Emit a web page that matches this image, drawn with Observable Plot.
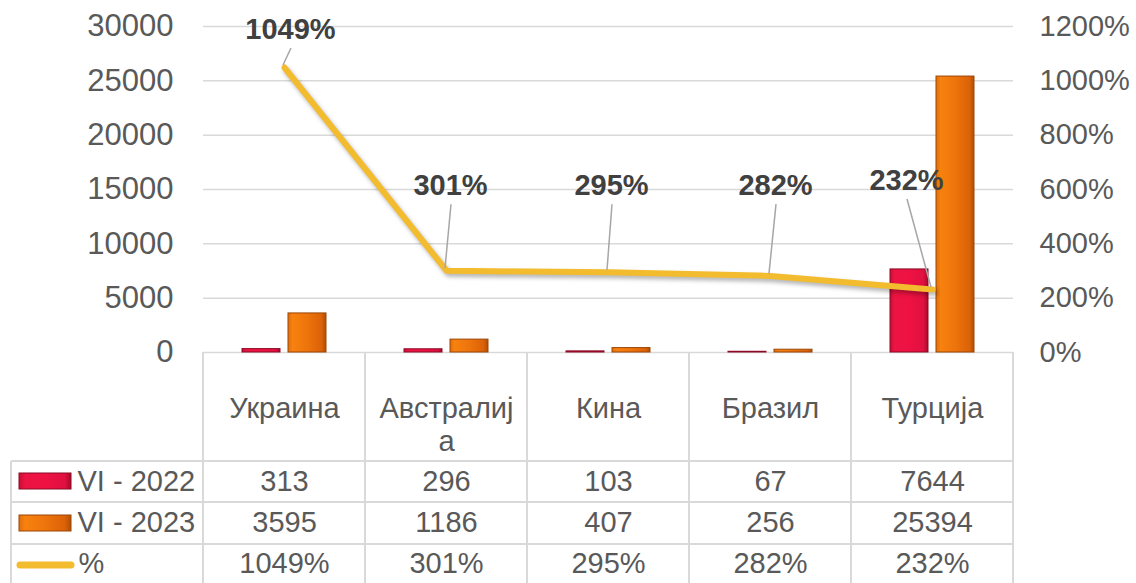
<!DOCTYPE html>
<html>
<head>
<meta charset="utf-8">
<script src="https://cdn.jsdelivr.net/npm/d3@7"></script>
<script src="https://cdn.jsdelivr.net/npm/@observablehq/plot@0.6"></script>
<style>
  html, body { margin: 0; padding: 0; background: #fff; }
  #chart svg { display: block; }
</style>
</head>
<body>
<div id="chart"></div>
<script>
// ---------- data ----------
const categories = ["Украина", "Австралија", "Кина", "Бразил", "Турција"];
const vi2022 = [313, 296, 103, 67, 7644];
const vi2023 = [3595, 1186, 407, 256, 25394];
const pct = [1049, 301, 295, 282, 232];
const leftTicks = [0, 5000, 10000, 15000, 20000, 25000, 30000];
const rightTicks = [0, 200, 400, 600, 800, 1000, 1200];
const seriesNames = ["VI - 2022", "VI - 2023", "%"];

// ---------- setup ----------
const PCT_TO_LEFT = 30000 / 1200;
const data = categories.map((cat, i) => ({cat, v22: vi2022[i], v23: vi2023[i], pct: pct[i]}));

// data-label placement (label centre in % units, horizontal shift in px)
const labelLayout = [
  {at: 1189, dx: 6},
  {at: 614, dx: 4},
  {at: 614, dx: 3},
  {at: 614, dx: 5},
  {at: 633, dx: -26}
];

const FONT = "'Liberation Sans', Arial, Helvetica, sans-serif";
const TXT = "#595959";
const GRID = "#D9D9D9";
const FS = 29;

function bandwidthOf(sx) {
  return typeof sx.bandwidth === "function" ? sx.bandwidth() : sx.bandwidth;
}

function defs() {
  const d = d3.create("svg:defs");
  const red = d.append("linearGradient").attr("id", "gRed")
    .attr("x1", 0).attr("x2", 1).attr("y1", 0).attr("y2", 0);
  [[0, "#C90D33"], [0.12, "#EC1443"], [0.5, "#EE1242"], [0.88, "#E01040"], [1, "#A80A2A"]]
    .forEach(([o, c]) => red.append("stop").attr("offset", o).attr("stop-color", c));
  const org = d.append("linearGradient").attr("id", "gOrange")
    .attr("x1", 0).attr("x2", 1).attr("y1", 0).attr("y2", 0);
  [[0, "#E26E0C"], [0.12, "#F7820F"], [0.5, "#EE740C"], [0.88, "#DB6207"], [1, "#B04F05"]]
    .forEach(([o, c]) => org.append("stop").attr("offset", o).attr("stop-color", c));
  return d.node();
}

const rowLines = [109, 150, 192];

function tableLines(index, scales, values, dims) {
  const sx = scales.x, bw = bandwidthOf(sx);
  const top = dims.height - dims.marginBottom;
  const right = dims.width - dims.marginRight;
  const bottom = dims.height + 6;
  const g = d3.create("svg:g");
  const lines = g.append("g").attr("stroke", GRID).attr("stroke-width", 2).attr("fill", "none");
  const edges = categories.map(c => sx(c)).concat([sx(categories[categories.length - 1]) + bw]);
  edges.forEach(x => lines.append("line").attr("x1", x).attr("x2", x).attr("y1", top).attr("y2", bottom));
  rowLines.forEach(o => lines.append("line").attr("x1", 11).attr("x2", right).attr("y1", top + o).attr("y2", top + o));
  lines.append("line").attr("x1", 11).attr("x2", 11).attr("y1", top + rowLines[0]).attr("y2", bottom);
  // legend keys
  g.append("rect").attr("x", 19).attr("y", top + 121).attr("width", 52).attr("height", 16)
    .attr("fill", "url(#gRed)").attr("stroke", "#8C0A26").attr("stroke-width", 1);
  g.append("rect").attr("x", 19).attr("y", top + 163).attr("width", 52).attr("height", 16)
    .attr("fill", "url(#gOrange)").attr("stroke", "#9C4606").attr("stroke-width", 1);
  g.append("line").attr("x1", 20).attr("x2", 71).attr("y1", top + 213).attr("y2", top + 213)
    .attr("stroke", "#F3BC2E").attr("stroke-width", 7).attr("stroke-linecap", "round");
  return g.node();
}

function leaders(index, scales) {
  const sx = scales.x, sy = scales.y, bw = bandwidthOf(sx);
  const g = d3.create("svg:g").attr("stroke", "#A6A6A6").attr("stroke-width", 1.5);
  data.forEach((d, i) => {
    const cx = sx(d.cat) + bw / 2;
    const py = sy(d.pct * PCT_TO_LEFT);
    const lx = cx + labelLayout[i].dx;
    const ly = sy(labelLayout[i].at * PCT_TO_LEFT);
    g.append("line").attr("x1", lx + 1).attr("y1", ly + 19).attr("x2", cx - 1).attr("y2", py - 2);
  });
  return g.node();
}

const headerText = d => d.cat === "Австралија" ? "Австралиј\nа" : d.cat;

const labels = data.map((d, i) => Plot.text([d], {
  x: "cat",
  y: () => labelLayout[i].at * PCT_TO_LEFT,
  text: () => `${d.pct}%`,
  dx: labelLayout[i].dx,
  fontSize: FS, fontWeight: "bold", fill: "#404040"
}));

const cell = {frameAnchor: "bottom", lineAnchor: "middle", fontSize: FS, fill: TXT};
const keyCell = {frameAnchor: "bottom-left", lineAnchor: "middle", textAnchor: "start", fontSize: FS, fill: TXT};

const chart = Plot.plot({
  width: 1136,
  height: 583,
  marginLeft: 203,
  marginRight: 123,
  marginTop: 26,
  marginBottom: 231,
  style: {fontFamily: FONT, background: "#fff"},
  x: {type: "band", domain: categories, padding: 0, axis: null},
  y: {domain: [0, 30000], axis: null},
  marks: [
    defs,
    Plot.gridY(leftTicks, {stroke: GRID, strokeOpacity: 1, strokeWidth: 1.5}),
    Plot.axisY(leftTicks, {anchor: "left", tickSize: 0, tickPadding: 30, fontSize: 31, fill: TXT,
      tickFormat: d => `${d}`, label: null}),
    Plot.axisY(rightTicks.map(t => t * PCT_TO_LEFT), {anchor: "right", tickSize: 0, tickPadding: 26,
      fontSize: FS, fill: TXT, tickFormat: d => `${Math.round(d / PCT_TO_LEFT)}%`, label: null}),
    tableLines,
    Plot.barY(data, {x: "cat", y: "v22", insetLeft: 39, insetRight: 85,
      fill: "url(#gRed)", stroke: "#8C0A26", strokeWidth: 1}),
    Plot.barY(data, {x: "cat", y: "v23", insetLeft: 85, insetRight: 39,
      fill: "url(#gOrange)", stroke: "#9C4606", strokeWidth: 1}),
    Plot.line(data, {x: "cat", y: d => d.pct * PCT_TO_LEFT, stroke: "#F3BC2E", strokeWidth: 6,
      imageFilter: "drop-shadow(2px 3px 2px rgba(0,0,0,0.3))"}),
    leaders,
    ...labels,
    // data table
    Plot.text(data, {x: "cat", text: headerText, frameAnchor: "bottom", lineAnchor: "top",
      dy: 42, lineHeight: 1.14, fontSize: FS, fill: TXT}),
    Plot.text(data, {x: "cat", text: d => `${d.v22}`, dy: 129, ...cell}),
    Plot.text(data, {x: "cat", text: d => `${d.v23}`, dy: 170, ...cell}),
    Plot.text(data, {x: "cat", text: d => `${d.pct}%`, dy: 211, ...cell}),
    Plot.text([seriesNames[0]], {text: d => d, dx: -126, dy: 129, ...keyCell}),
    Plot.text([seriesNames[1]], {text: d => d, dx: -126, dy: 170, ...keyCell}),
    Plot.text([seriesNames[2]], {text: d => d, dx: -125, dy: 211, ...keyCell})
  ]
});

document.getElementById("chart").appendChild(chart);
</script>
</body>
</html>
